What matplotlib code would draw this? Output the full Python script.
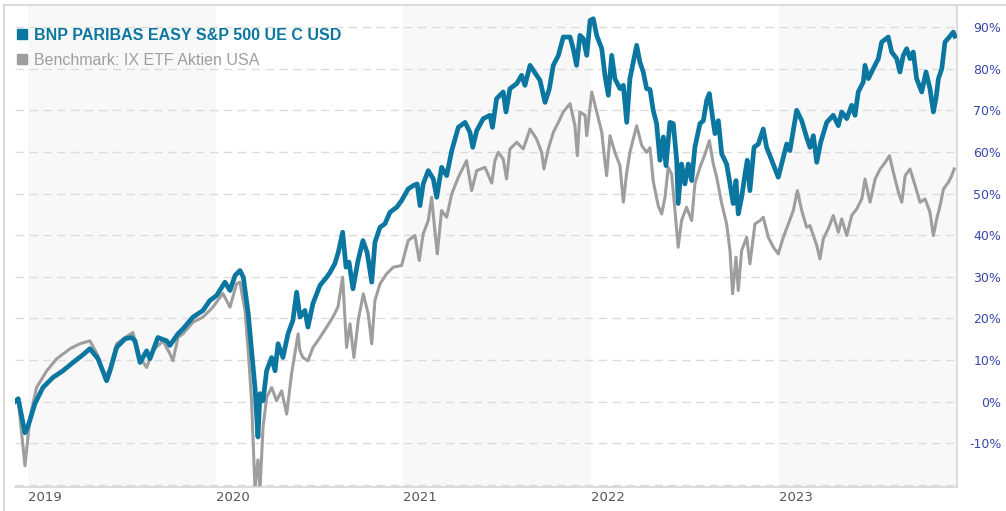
import matplotlib.pyplot as plt
from matplotlib.lines import Line2D
from matplotlib.ticker import FuncFormatter

# Wertentwicklung in %, Zeit als Dezimaljahr
fund_t = [2018.931, 2018.948, 2018.984, 2019.000, 2019.037, 2019.080, 2019.133, 2019.186, 2019.240, 2019.286,
          2019.330, 2019.373, 2019.419, 2019.437, 2019.472, 2019.517, 2019.552, 2019.570, 2019.597, 2019.632,
          2019.650, 2019.692, 2019.739, 2019.756, 2019.799, 2019.826, 2019.879, 2019.932, 2019.969, 2020.005,
          2020.049, 2020.076, 2020.103, 2020.129, 2020.147, 2020.173, 2020.191, 2020.209, 2020.225, 2020.236,
          2020.252, 2020.271, 2020.298, 2020.316, 2020.332, 2020.358, 2020.385, 2020.411, 2020.431, 2020.449,
          2020.475, 2020.491, 2020.518, 2020.555, 2020.591, 2020.608, 2020.635, 2020.653, 2020.676, 2020.694,
          2020.710, 2020.731, 2020.758, 2020.784, 2020.806, 2020.831, 2020.848, 2020.875, 2020.901, 2020.928,
          2020.964, 2020.990, 2021.025, 2021.052, 2021.073, 2021.088, 2021.105, 2021.132, 2021.159, 2021.177,
          2021.203, 2021.230, 2021.257, 2021.292, 2021.328, 2021.354, 2021.369, 2021.390, 2021.425, 2021.461,
          2021.474, 2021.496, 2021.531, 2021.546, 2021.567, 2021.603, 2021.629, 2021.647, 2021.674, 2021.709,
          2021.727, 2021.754, 2021.777, 2021.798, 2021.825, 2021.851, 2021.887, 2021.904, 2021.922, 2021.940,
          2021.958, 2021.976, 2021.994, 2022.011, 2022.029, 2022.056, 2022.073, 2022.091, 2022.109, 2022.126,
          2022.153, 2022.171, 2022.189, 2022.206, 2022.242, 2022.259, 2022.277, 2022.295, 2022.313, 2022.330,
          2022.348, 2022.366, 2022.384, 2022.398, 2022.419, 2022.437, 2022.455, 2022.463, 2022.481, 2022.499,
          2022.517, 2022.535, 2022.552, 2022.579, 2022.597, 2022.615, 2022.629, 2022.641, 2022.659, 2022.677,
          2022.695, 2022.721, 2022.739, 2022.756, 2022.771, 2022.783, 2022.801, 2022.819, 2022.831, 2022.845,
          2022.867, 2022.890, 2022.916, 2022.934, 2022.961, 2022.996, 2023.023, 2023.041, 2023.058, 2023.094,
          2023.121, 2023.147, 2023.165, 2023.183, 2023.201, 2023.222, 2023.254, 2023.289, 2023.316, 2023.334,
          2023.361, 2023.387, 2023.405, 2023.422, 2023.449, 2023.458, 2023.476, 2023.502, 2023.529, 2023.547,
          2023.582, 2023.600, 2023.627, 2023.644, 2023.662, 2023.680, 2023.698, 2023.715, 2023.733, 2023.760,
          2023.783, 2023.804, 2023.822, 2023.836, 2023.849, 2023.867, 2023.884, 2023.907, 2023.928, 2023.937]
fund_pct = [0.0, 0.7, -7.5, -6.0, -0.5, 3.4, 5.8, 7.4, 9.4, 11.0,
            12.7, 10.3, 5.0, 7.4, 13.0, 15.1, 15.4, 14.6, 9.4, 12.2,
            10.3, 15.4, 14.6, 13.5, 16.3, 17.5, 20.3, 21.9, 24.3, 25.5,
            28.7, 26.7, 30.3, 31.5, 29.9, 21.2, 12.3, 3.4, -8.5, 1.9,
            0.2, 7.4, 10.6, 7.4, 13.9, 10.6, 16.3, 19.5, 26.3, 20.3,
            21.9, 17.9, 23.6, 27.9, 29.9, 31.0, 33.2, 35.9, 40.7, 32.3,
            33.5, 27.1, 33.9, 38.7, 35.9, 28.7, 38.3, 41.9, 42.7, 45.5,
            46.7, 48.3, 51.1, 51.9, 52.3, 47.1, 52.3, 55.5, 53.5, 49.1,
            56.3, 54.3, 60.3, 65.9, 67.1, 64.7, 61.1, 65.1, 68.0, 68.8,
            65.9, 72.8, 74.4, 69.6, 75.2, 76.4, 78.4, 76.0, 80.8, 78.4,
            77.2, 71.9, 75.2, 80.8, 83.2, 87.6, 87.6, 84.8, 80.8, 88.0,
            87.2, 83.2, 91.6, 92.0, 88.0, 84.8, 78.4, 73.6, 83.2, 77.6,
            75.2, 76.0, 67.1, 77.6, 85.6, 81.6, 79.2, 75.2, 75.0, 70.0,
            66.8, 58.0, 63.6, 56.7, 67.1, 66.8, 58.0, 47.6, 57.1, 52.3,
            57.1, 53.1, 61.1, 66.8, 67.5, 72.4, 74.0, 70.0, 64.4, 67.5,
            59.5, 57.1, 52.3, 47.6, 53.1, 45.1, 49.1, 54.7, 58.0, 50.7,
            61.1, 61.9, 65.5, 61.1, 58.0, 53.9, 58.7, 61.9, 60.3, 70.0,
            67.5, 63.5, 61.1, 63.9, 57.5, 62.3, 67.1, 68.8, 66.3, 69.6,
            68.0, 71.2, 68.8, 74.4, 76.8, 80.8, 77.6, 80.0, 82.4, 86.4,
            87.6, 84.0, 82.4, 79.2, 83.2, 84.8, 82.4, 84.0, 77.6, 74.4,
            79.2, 75.2, 69.6, 72.8, 77.6, 80.0, 86.4, 87.6, 88.8, 87.8]

bench_t = [2018.931, 2018.948, 2018.984, 2019.011, 2019.046, 2019.100, 2019.153, 2019.224, 2019.277, 2019.330,
           2019.373, 2019.410, 2019.437, 2019.472, 2019.517, 2019.559, 2019.597, 2019.632, 2019.666, 2019.719,
           2019.756, 2019.772, 2019.799, 2019.826, 2019.879, 2019.932, 2019.985, 2020.038, 2020.076, 2020.111,
           2020.129, 2020.156, 2020.173, 2020.191, 2020.209, 2020.225, 2020.236, 2020.252, 2020.271, 2020.298,
           2020.324, 2020.351, 2020.378, 2020.404, 2020.439, 2020.448, 2020.464, 2020.491, 2020.518, 2020.555,
           2020.591, 2020.624, 2020.651, 2020.676, 2020.697, 2020.715, 2020.736, 2020.759, 2020.786, 2020.812,
           2020.831, 2020.848, 2020.875, 2020.910, 2020.946, 2020.990, 2021.025, 2021.061, 2021.084, 2021.105,
           2021.132, 2021.150, 2021.167, 2021.180, 2021.203, 2021.230, 2021.257, 2021.292, 2021.336, 2021.363,
           2021.390, 2021.434, 2021.470, 2021.487, 2021.505, 2021.531, 2021.549, 2021.567, 2021.603, 2021.638,
           2021.674, 2021.709, 2021.736, 2021.748, 2021.771, 2021.798, 2021.825, 2021.851, 2021.887, 2021.913,
           2021.926, 2021.940, 2021.967, 2021.976, 2022.003, 2022.029, 2022.056, 2022.073, 2022.082, 2022.100,
           2022.126, 2022.153, 2022.171, 2022.189, 2022.206, 2022.242, 2022.269, 2022.295, 2022.313, 2022.330,
           2022.357, 2022.375, 2022.393, 2022.410, 2022.428, 2022.446, 2022.463, 2022.481, 2022.508, 2022.535,
           2022.552, 2022.579, 2022.606, 2022.629, 2022.650, 2022.668, 2022.695, 2022.721, 2022.739, 2022.753,
           2022.771, 2022.783, 2022.801, 2022.828, 2022.845, 2022.872, 2022.899, 2022.916, 2022.943, 2022.970,
           2022.996, 2023.023, 2023.050, 2023.076, 2023.098, 2023.121, 2023.147, 2023.165, 2023.201, 2023.218,
           2023.236, 2023.262, 2023.289, 2023.316, 2023.334, 2023.361, 2023.387, 2023.414, 2023.441, 2023.458,
           2023.485, 2023.512, 2023.539, 2023.566, 2023.588, 2023.609, 2023.636, 2023.654, 2023.672, 2023.698,
           2023.725, 2023.751, 2023.778, 2023.804, 2023.822, 2023.840, 2023.858, 2023.876, 2023.902, 2023.920,
           2023.933]
bench_pct = [0.0, 0.5, -15.4, -3.8, 3.4, 7.4, 10.3, 12.7, 13.9, 14.6,
             11.0, 5.5, 8.2, 13.9, 15.4, 16.6, 10.6, 8.2, 12.2, 14.6,
             11.5, 9.8, 15.4, 16.3, 19.1, 20.3, 22.7, 26.0, 22.7, 28.3,
             28.7, 21.9, 12.3, 0.2, -21.0, -14.0, -21.0, -6.2, 1.0, 3.4,
             0.2, 2.6, -3.0, 6.7, 16.3, 12.3, 10.6, 9.8, 13.0, 15.4,
             17.9, 20.3, 22.7, 29.9, 13.0, 18.7, 10.6, 19.5, 25.9, 21.1,
             13.9, 24.3, 28.3, 30.7, 32.3, 32.7, 38.7, 39.9, 33.9, 40.3,
             43.5, 49.1, 41.1, 35.5, 45.9, 44.3, 49.9, 53.9, 57.9, 50.7,
             55.5, 56.3, 52.5, 57.9, 59.9, 58.3, 53.5, 60.7, 62.3, 60.7,
             65.5, 63.1, 59.9, 55.9, 60.7, 64.7, 67.1, 69.6, 71.6, 66.3,
             59.1, 69.6, 68.8, 63.9, 74.4, 69.6, 64.7, 57.5, 54.3, 63.9,
             59.9, 56.7, 47.9, 55.1, 59.9, 66.3, 61.5, 59.9, 61.0, 53.0,
             47.0, 45.1, 49.1, 56.3, 54.7, 45.9, 37.1, 43.5, 46.7, 43.5,
             52.3, 56.3, 59.5, 62.7, 57.1, 53.9, 47.6, 42.7, 36.3, 25.9,
             34.7, 26.7, 36.3, 39.5, 33.1, 42.7, 43.5, 44.3, 39.5, 37.1,
             35.5, 39.5, 42.7, 45.9, 50.7, 45.9, 41.9, 42.3, 37.5, 34.3,
             39.1, 41.5, 44.7, 40.7, 43.9, 39.9, 44.7, 46.3, 48.7, 53.5,
             47.9, 53.5, 55.9, 57.5, 59.1, 55.1, 50.3, 47.9, 54.3, 55.9,
             51.9, 47.9, 48.7, 45.5, 39.9, 43.9, 47.1, 51.1, 52.7, 54.3,
             55.9]

years = [2019, 2020, 2021, 2022, 2023]
shaded_years = [2019, 2021, 2023]
y_ticks = list(range(-20, 100, 10))

fund_name = 'BNP PARIBAS EASY S&P 500 UE C USD'
bench_name = 'Benchmark: IX ETF Aktien USA'

fund_color = '#0b77a0'
bench_color = '#9e9e9e'
grid_color = '#dcdcdc'
border_color = '#d4d4d4'

fig = plt.figure(figsize=(10.06, 5.11), dpi=100)
ax = fig.add_axes([15 / 1006, 24.5 / 511, 942 / 1006, 481.5 / 511])

x_start, x_end = 2018.931, 2023.948
ax.set_xlim(x_start, x_end)
ax.set_ylim(-20.4, 95.3)

# Jahresbänder
for y in shaded_years:
    ax.axvspan(y, min(y + 1, x_end), color='#f8f8f8', lw=0, zorder=0)

# Gitterlinien
for v in y_ticks:
    ax.axhline(v, color=grid_color, lw=1, ls=(0, (6, 4)), zorder=1)

ax.plot(bench_t, bench_pct, color=bench_color, lw=2.2, solid_joinstyle='round', zorder=2)
ax.plot(fund_t, fund_pct, color=fund_color, lw=3.4, solid_joinstyle='round', zorder=3)

# Achsen
ax.yaxis.tick_right()
ax.set_yticks(y_ticks)
ax.yaxis.set_major_formatter(FuncFormatter(lambda v, p: '' if v < -15 else f'{v:.0f}%'))
ax.tick_params(axis='y', length=0, pad=32, labelsize=9, labelcolor='#3848a8')
for lab in ax.get_yticklabels():
    lab.set_horizontalalignment('right')

ax.set_xticks(years)
ax.set_xticklabels([str(y) for y in years], ha='left')
ax.tick_params(axis='x', length=0, pad=3, labelsize=9.5, labelcolor='#555555')

for side in ['left', 'top']:
    ax.spines[side].set_visible(False)
for side in ['right', 'bottom']:
    ax.spines[side].set_color(border_color)
    ax.spines[side].set_linewidth(1.2)

# äußerer Rahmen
fig.add_artist(Line2D([4 / 1006, 1], [1 - 5 / 511, 1 - 5 / 511], transform=fig.transFigure,
                      color=border_color, lw=1.2))
fig.add_artist(Line2D([4 / 1006, 4 / 1006], [0, 1 - 5 / 511], transform=fig.transFigure,
                      color=border_color, lw=1.2))

# Legende
handles = [Line2D([], [], marker='s', ls='none', color=fund_color, markersize=6.8),
           Line2D([], [], marker='s', ls='none', color=bench_color, markersize=6.8)]
leg = ax.legend(handles, [fund_name, bench_name], loc='upper left',
                bbox_to_anchor=(16 / 1006, 1 - 28 / 511), bbox_transform=fig.transFigure,
                frameon=False, borderpad=0, borderaxespad=0, handlelength=0.75,
                handletextpad=0.4, labelspacing=0.6,
                prop={'family': 'Liberation Sans', 'size': 11.5})
texts = leg.get_texts()
texts[0].set_color(fund_color)
texts[0].set_fontweight('bold')
texts[1].set_color(bench_color)

fig.savefig('out.png', dpi=100)
